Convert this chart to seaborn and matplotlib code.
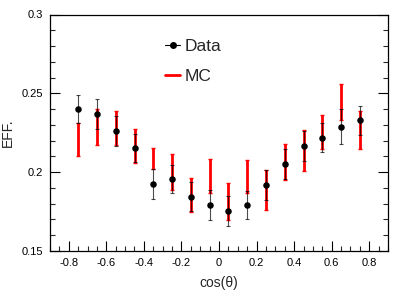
import matplotlib
matplotlib.use("Agg")
import matplotlib.pyplot as plt
import seaborn as sns
import pandas as pd
import numpy as np
from matplotlib.lines import Line2D
from matplotlib.ticker import MultipleLocator

cos_theta = [-0.75, -0.65, -0.55, -0.45, -0.35, -0.25, -0.15, -0.05,
             0.05, 0.15, 0.25, 0.35, 0.45, 0.55, 0.65, 0.75]
data_eff = [0.2399, 0.2367, 0.2261, 0.2153, 0.1923, 0.1957, 0.1845, 0.1790,
            0.1754, 0.1794, 0.1919, 0.2054, 0.2166, 0.2219, 0.2289, 0.2329]
data_err = [0.0088, 0.0095, 0.0093, 0.0090, 0.0094, 0.0089, 0.0093, 0.0095,
            0.0095, 0.0089, 0.0096, 0.0095, 0.0097, 0.0090, 0.0110, 0.0091]
mc_eff = [0.2207, 0.2285, 0.2278, 0.2166, 0.2085, 0.2002, 0.1856, 0.1974,
          0.1813, 0.1970, 0.1889, 0.2066, 0.2137, 0.2254, 0.2443, 0.2265]
mc_err = [0.0107, 0.0115, 0.0108, 0.0108, 0.0067, 0.0115, 0.0107, 0.0108,
          0.0116, 0.0105, 0.0127, 0.0115, 0.0128, 0.0109, 0.0114, 0.0120]

df = pd.DataFrame({"cos": cos_theta, "data": data_eff, "derr": data_err,
                   "mc": mc_eff, "merr": mc_err})

sns.set_style("ticks")
plt.rcParams['font.family'] = ['Liberation Sans', 'DejaVu Sans']

fig = plt.figure(figsize=(4.09, 2.96), dpi=100)
ax = fig.add_axes([50/409, 45/296, 338/409, 236.5/296])

# MC error bars (red)
ax.errorbar(df["cos"], df["mc"], yerr=df["merr"], fmt="none", ecolor="red",
            elinewidth=2.0, capsize=1.5, capthick=1.0, zorder=2)
# Data error bars (black)
ax.errorbar(df["cos"], df["data"], yerr=df["derr"], fmt="none", ecolor="black",
            elinewidth=0.8, capsize=1.5, capthick=0.8, alpha=0.7, zorder=3)
sns.scatterplot(data=df, x="cos", y="data", ax=ax, color="black", s=22,
                edgecolor="black", linewidth=0, zorder=4)

ax.set_xlim(-0.9, 0.9)
ax.set_ylim(0.15, 0.3)
ax.xaxis.set_minor_locator(MultipleLocator(0.05))
ax.yaxis.set_minor_locator(MultipleLocator(0.01))
ax.set_xticks([-0.8, -0.6, -0.4, -0.2, 0, 0.2, 0.4, 0.6, 0.8])
ax.set_xticklabels(["-0.8", "-0.6", "-0.4", "-0.2", "0", "0.2", "0.4", "0.6", "0.8"])
ax.set_yticks([0.15, 0.2, 0.25, 0.3])
ax.set_yticklabels(["0.15", "0.2", "0.25", "0.3"])

ax.tick_params(axis="both", which="major", direction="in", length=7, width=0.8,
               labelsize=8, colors="black", right=True, top=False, pad=5)
ax.tick_params(axis="both", which="minor", direction="in", length=3.5, width=0.8,
               right=True, top=False)
for s in ax.spines.values():
    s.set_linewidth(0.9)
    s.set_color("black")
    s.set_visible(True)

ax.set_xlabel("cos(θ)", fontsize=10, labelpad=6)
ax.set_ylabel("")
fig.text(8/409, 1 - 133/296, "EFF.", rotation=90, fontsize=10,
         ha="center", va="center")

handles = [Line2D([0], [0], color="black", lw=0.8, marker="o", markersize=4),
           Line2D([0], [0], color="red", lw=2.0)]
leg = fig.legend(handles, ["Data", "MC"], loc="upper left",
                 bbox_to_anchor=(162/409, 1 - 35/296), frameon=False, fontsize=12.5,
                 handlelength=0.85, handletextpad=0.25, labelspacing=0.88,
                 borderaxespad=0, borderpad=0.2)

fig.savefig("out.png", dpi=100)
